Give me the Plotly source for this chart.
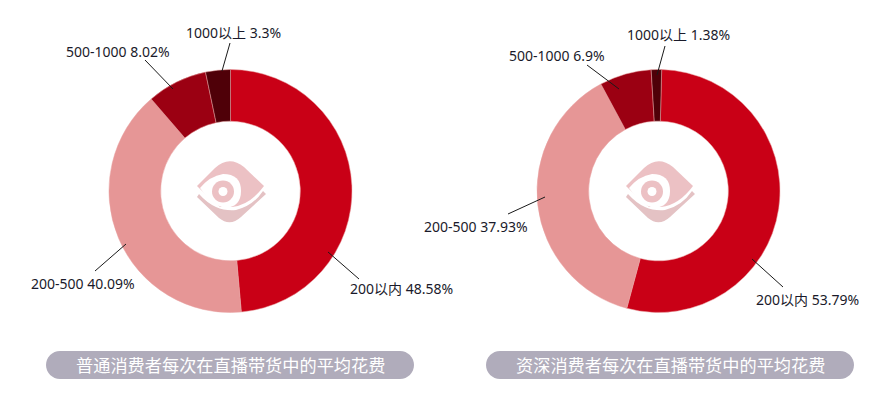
import plotly.graph_objects as go

W, H = 890, 394
categories = ["200以内", "200-500", "500-1000", "1000以上"]
values_a = [48.58, 40.09, 8.02, 3.3]
values_b = [53.79, 37.93, 6.9, 1.38]
text_a = ["48.58%", "40.09%", "8.02%", "3.3%"]
text_b = ["53.79%", "37.93%", "6.9%", "1.38%"]
title_a = "普通消费者每次在直播带货中的平均花费"
title_b = "资深消费者每次在直播带货中的平均花费"
colors = ["#c90016", "#e69696", "#9b0012", "#4f0008"]

FONT = "Noto Sans, Noto Sans CJK SC"
R = 121.5
CY = 191
centers = [230.5, 658.5]
rotations = [0, 1.5]
label_pos = [
    [(401, 288.5), (82.5, 283), (118, 51), (233, 32)],
    [(807.5, 299), (476, 226), (557, 55), (678, 35)],
]
leaders = [
    [(328, 252, 359, 279), (126, 244, 95, 271), (173, 89, 145, 60), (222, 71, 230, 43)],
    [(752, 259, 783, 287), (545, 197, 508, 214), (619, 89, 587, 65), (657, 75, 665, 46)],
]
pills = [(46, 414), (486, 854)]


def X(px):
    return px / W


def Y(py):
    return 1 - py / H


def pth(points):
    out = []
    for cmd, *c in points:
        xy = [f"{X(c[i]):.5f},{Y(c[i + 1]):.5f}" for i in range(0, len(c), 2)]
        out.append(cmd + " " + " ".join(xy))
    return " ".join(out) + " Z"


def circle(cx, cy, r, color):
    return dict(type="circle", xref="paper", yref="paper", x0=X(cx - r), x1=X(cx + r),
                y0=Y(cy + r), y1=Y(cy - r), fillcolor=color, line_width=0, layer="above")


def filled(points, color, layer="above"):
    return dict(type="path", xref="paper", yref="paper", path=pth(points), fillcolor=color,
                line_width=0, layer=layer)


def logo(cx):
    d = cx - 230.5 + (0 if cx < 400 else 1)
    lower = [("M", 199 + d, 194), ("Q", 207 + d, 203, 216 + d, 207), ("Q", 225 + d, 211, 236 + d, 210),
             ("Q", 253 + d, 206, 263 + d, 191), ("L", 266 + d, 194), ("L", 241 + d, 217),
             ("Q", 230 + d, 227, 219 + d, 218), ("L", 197 + d, 197)]
    body = [("M", 197 + d, 186), ("L", 215 + d, 168), ("Q", 229 + d, 155, 244 + d, 167), ("L", 264 + d, 186),
            ("Q", 250 + d, 205, 232 + d, 207), ("L", 220 + d, 207), ("L", 200 + d, 189)]
    eye = [("M", 200 + d, 188), ("Q", 210 + d, 176, 223 + d, 174), ("Q", 241 + d, 174, 241 + d, 191),
           ("Q", 241 + d, 207, 225 + d, 208), ("Q", 211 + d, 205, 200 + d, 188)]
    return [filled(lower, "#e4c2c4"), filled(body, "#ecc1c4"), filled(eye, "#ffffff"),
            circle(223 + d, 191.5, 11, "#ecc1c4"), circle(223 + d, 191.5, 4.5, "#ffffff")]


def pill(x0, x1, y0, y1):
    r = (y1 - y0) / 2
    return filled([("M", x0 + r, y0), ("L", x1 - r, y0), ("C", x1 - r * 0.45, y0, x1, y0 + r * 0.45, x1, y0 + r),
                   ("C", x1, y1 - r * 0.45, x1 - r * 0.45, y1, x1 - r, y1), ("L", x0 + r, y1),
                   ("C", x0 + r * 0.45, y1, x0, y1 - r * 0.45, x0, y0 + r),
                   ("C", x0, y0 + r * 0.45, x0 + r * 0.45, y0, x0 + r, y0)], "#b0acbb", "below")


fig = go.Figure()
shapes = []
annotations = []
for k, (vals, txt, title, cx) in enumerate(zip((values_a, values_b), (text_a, text_b),
                                               (title_a, title_b), centers)):
    fig.add_trace(go.Pie(
        labels=categories, values=vals, hole=0.575, sort=False, direction="clockwise", rotation=rotations[k],
        marker=dict(colors=colors, line=dict(color="#e8a0a0", width=0.5)), textinfo="none",
        hoverinfo="label+percent", showlegend=False,
        domain=dict(x=[X(cx - R), X(cx + R)], y=[Y(CY + R), Y(CY - R)]),
    ))
    for i in range(len(vals)):
        x0, y0, x1, y1 = leaders[k][i]
        shapes.append(dict(type="line", xref="paper", yref="paper", x0=X(x0), y0=Y(y0), x1=X(x1), y1=Y(y1),
                           line=dict(color="#1a1a1a", width=1), layer="above"))
        lx, ly = label_pos[k][i]
        annotations.append(dict(x=X(lx), y=Y(ly), xref="paper", yref="paper", showarrow=False,
                                xanchor="center", yanchor="middle",
                                text=f"{categories[i]} {txt[i]}",
                                font=dict(family=FONT, size=14, color="#1a1a2a")))
    shapes += logo(cx)
    px0, px1 = pills[k]
    shapes.append(pill(px0, px1, 351, 379))
    annotations.append(dict(x=X((px0 + px1) / 2), y=Y(364.5), xref="paper", yref="paper", showarrow=False,
                            xanchor="center", yanchor="middle",
                            text=title, font=dict(family="Noto Sans CJK SC", size=17.2, color="#ffffff")))

fig.update_layout(width=W, height=H, margin=dict(l=0, r=0, t=0, b=0), paper_bgcolor="white",
                  plot_bgcolor="white", shapes=shapes, annotations=annotations)
fig.write_html("out.html", config={"displayModeBar": False},
               post_script="document.body.style.margin='0';document.documentElement.style.overflow='hidden';")
